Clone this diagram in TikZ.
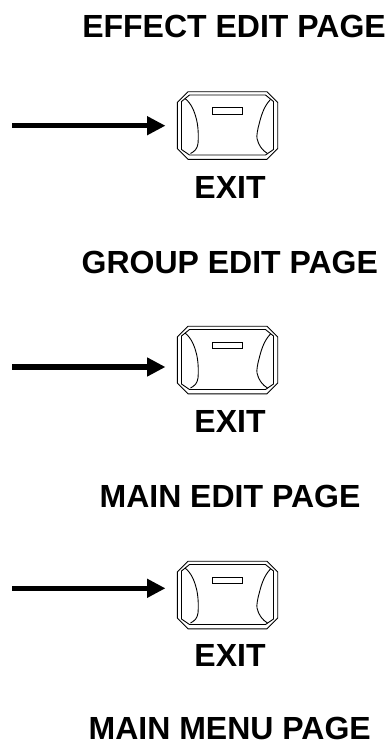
\documentclass[tikz,border=0pt]{standalone}
\usepackage{fontspec}
\setmainfont{Liberation Sans}
\usetikzlibrary{arrows.meta}
\tikzset{
  x=1pt,y=-1pt,
  lbl/.style={font=\bfseries\fontsize{32}{36}\selectfont,inner sep=0pt,anchor=base},
  btnbox/.style={minimum width=100.4pt,minimum height=67.6pt,inner sep=0pt},
  btnline/.style={draw=black,line width=0.9pt},
  pointer/.style={line width=5.3pt,-{Triangle[length=18.5pt,width=18pt]},shorten >=11.6pt}
}
\newcommand{\exitbutton}[3]{%
  \node[btnbox] (btn#1) at (227.5,#2) {};
  \begin{scope}[shift={(227.5,#2)}]
    \draw[btnline] (-39.5,-33.8) -- (39.5,-33.8) -- (50.2,-23) -- (50.2,23) -- (39.5,33.8) -- (-39.5,33.8) -- (-50.2,23) -- (-50.2,-23) -- cycle;
    \draw[btnline] (-38,-30.5) -- (38,-30.5) -- (46,-24) -- (46,24) -- (38,29.5) -- (-38,29.5) -- (-46,24) -- (-46,-24) -- cycle;
    \draw[btnline] (-15,-18) rectangle (15,-11.2);
    \draw[btnline] (-42.5,-27) .. controls (-36,-22) and (-33,-14) .. (-31,-6) .. controls (-29,2) and (-29,12) .. (-29.5,18) .. controls (-30,23) and (-33,26) .. (-37,28);
    \draw[btnline] (43,-26) .. controls (37,-20) and (34,-11) .. (32,-3) .. controls (30,4) and (29,10) .. (29.5,13) .. controls (31,20) and (35,25) .. (40,28);
  \end{scope}
  \coordinate (start#1) at (12,#3);
  \draw[pointer] (start#1) -- (start#1 -| btn#1.west);
}
\begin{document}
\begin{tikzpicture}
\useasboundingbox (0,0) rectangle (388,742);
\node[lbl] (t1) at (234,37.3) {EFFECT EDIT PAGE};
\exitbutton{1}{125.5}{125.7}
\node[lbl] (e1) at (230,198.5) {EXIT};
\node[lbl] (t2) at (229.8,273) {GROUP EDIT PAGE};
\exitbutton{2}{360}{367}
\node[lbl] (e2) at (230,432.7) {EXIT};
\node[lbl] (t3) at (230,507.3) {MAIN EDIT PAGE};
\exitbutton{3}{595}{588.3}
\node[lbl] (e3) at (230,666.7) {EXIT};
\node[lbl] (t4) at (229.7,739.3) {MAIN MENU PAGE};
\end{tikzpicture}
\end{document}
